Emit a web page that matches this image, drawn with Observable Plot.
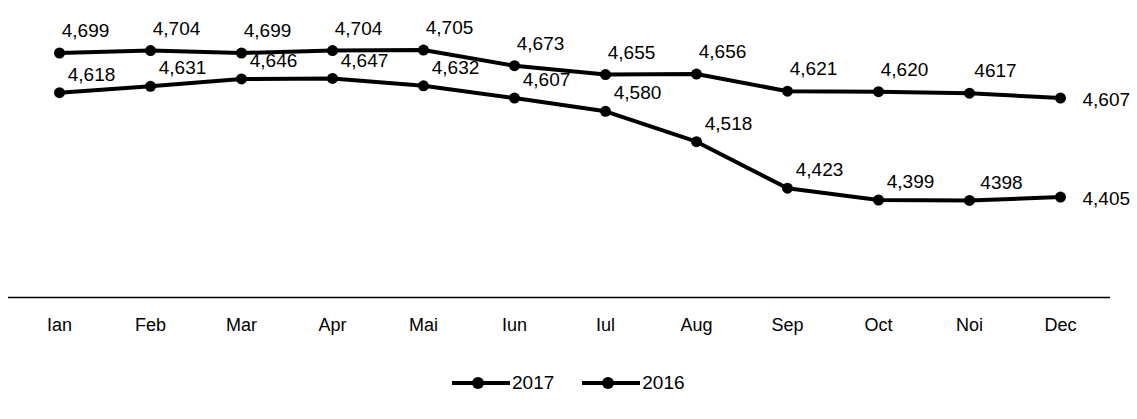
<!DOCTYPE html>
<html><head><meta charset="utf-8">
<script src="https://cdn.jsdelivr.net/npm/d3@7"></script>
<script src="https://cdn.jsdelivr.net/npm/@observablehq/plot@0.6"></script>
<style>
body{margin:0;background:#fff;font-family:"Liberation Sans",Arial,sans-serif;}
#legend{display:flex;align-items:center;padding-left:452px;padding-top:22px;height:22px;font-size:19px;color:#000;}
#legend .item{display:flex;align-items:center;margin-right:28px;}
#legend svg{margin-right:2px;}
</style>
</head><body>
<div id="chart"></div>
<div id="legend"></div>
<script>
const months = ["Ian","Feb","Mar","Apr","Mai","Iun","Iul","Aug","Sep","Oct","Noi","Dec"];
const seriesNames = ["2017","2016"];
const valuesTop = [4699,4704,4699,4704,4705,4673,4655,4656,4621,4620,4617,4607];
const labelsTop = ["4,699","4,704","4,699","4,704","4,705","4,673","4,655","4,656","4,621","4,620","4617","4,607"];
const valuesBottom = [4618,4631,4646,4647,4632,4607,4580,4518,4423,4399,4398,4405];
const labelsBottom = ["4,618","4,631","4,646","4,647","4,632","4,607","4,580","4,518","4,423","4,399","4398","4,405"];
const yBase = 4200;

const rows = [];
months.forEach((m,i)=>{
  rows.push({month:m, value:valuesTop[i], label:labelsTop[i], series:"top", last:i===months.length-1});
  rows.push({month:m, value:valuesBottom[i], label:labelsBottom[i], series:"bottom", last:i===months.length-1});
});

const chart = Plot.plot({
  width:1137,
  height:350,
  marginLeft:8,
  marginRight:27,
  marginTop:3,
  marginBottom:53,
  style:{fontFamily:"'Liberation Sans', Arial, sans-serif", fontSize:"18px", color:"#000", background:"#fff"},
  x:{type:"point", domain:months, range:[55,1063], padding:0, label:null, tickSize:0, tickPadding:21},
  y:{domain:[4200,4800], range:[297,3], axis:null},
  marks:[
    Plot.ruleY([yBase], {stroke:"#000", strokeWidth:1.5}),
    Plot.line(rows, {x:"month", y:"value", z:"series", stroke:"#000", strokeWidth:4, curve:"linear"}),
    Plot.dot(rows, {x:"month", y:"value", r:5.5, fill:"#000", stroke:"none"}),
    Plot.text(rows.filter(d=>d.series==="top" && !d.last), {x:"month", y:"value", text:"label", dx:26, dy:-22, fontSize:19, fill:"#000"}),
    Plot.text(rows.filter(d=>d.series==="bottom" && !d.last), {x:"month", y:"value", text:"label", dx:32, dy:-18, fontSize:19, fill:"#000"}),
    Plot.text(rows.filter(d=>d.last), {x:"month", y:"value", text:"label", dx:22, dy:2, textAnchor:"start", fontSize:19, fill:"#000"})
  ]
});
document.getElementById("chart").appendChild(chart);

const legend = document.getElementById("legend");
seriesNames.forEach(name=>{
  const item = document.createElement("div");
  item.className="item";
  item.innerHTML = `<svg width="58" height="14"><line x1="0" y1="7" x2="58" y2="7" stroke="#000" stroke-width="4"/><circle cx="26" cy="7" r="6" fill="#000"/></svg><span>${name}</span>`;
  legend.appendChild(item);
});
</script>
</body></html>
